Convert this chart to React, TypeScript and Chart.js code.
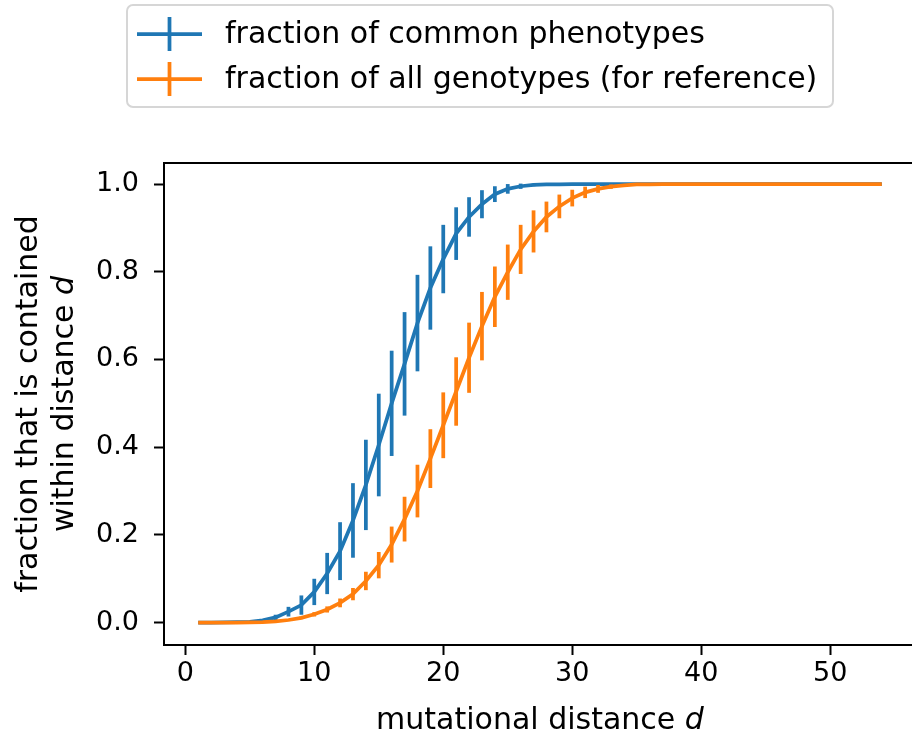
import React, { useEffect, useRef } from "react";
import { Chart, registerables } from "chart.js";

Chart.register(...registerables);

const distances = [
  1, 2, 3, 4, 5, 6, 7, 8, 9, 10, 11, 12, 13, 14, 15, 16, 17, 18, 19, 20, 21, 22, 23, 24, 25, 26, 27,
  28, 29, 30, 31, 32, 33, 34, 35, 36, 37, 38, 39, 40, 41, 42, 43, 44, 45, 46, 47, 48, 49, 50, 51, 52, 53, 54,
];

const commonPhenotypes = [
  0, 0, 0.0005, 0.001, 0.002, 0.005, 0.012, 0.025, 0.04, 0.07, 0.112, 0.163, 0.233, 0.314, 0.405, 0.5, 0.59,
  0.683, 0.763, 0.829, 0.887, 0.925, 0.954, 0.977, 0.989, 0.995, 0.998, 0.999, 0.9995, 1, 1, 1, 1, 1, 1, 1, 1,
  1, 1, 1, 1, 1, 1, 1, 1, 1, 1, 1, 1, 1, 1, 1, 1, 1,
];
const commonPhenotypesErr = [
  0, 0, 0, 0, 0.001, 0.003, 0.006, 0.011, 0.022, 0.03, 0.047, 0.066, 0.085, 0.103, 0.117, 0.12, 0.118, 0.11,
  0.095, 0.078, 0.06, 0.045, 0.032, 0.018, 0.011, 0.006, 0.003, 0.001, 0, 0, 0, 0, 0, 0, 0, 0, 0, 0, 0, 0, 0,
  0, 0, 0, 0, 0, 0, 0, 0, 0, 0, 0, 0, 0,
];

const allGenotypes = [
  0, 0, 0, 0.0002, 0.0005, 0.001, 0.003, 0.006, 0.011, 0.019, 0.03, 0.045, 0.065, 0.095, 0.131, 0.178, 0.236,
  0.3, 0.374, 0.45, 0.527, 0.604, 0.676, 0.743, 0.799, 0.851, 0.892, 0.925, 0.949, 0.968, 0.981, 0.989, 0.994,
  0.997, 0.999, 0.9995, 1, 1, 1, 1, 1, 1, 1, 1, 1, 1, 1, 1, 1, 1, 1, 1, 1, 1,
];
const allGenotypesErr = [
  0, 0, 0, 0, 0, 0.0005, 0.001, 0.002, 0.003, 0.005, 0.007, 0.01, 0.014, 0.021, 0.03, 0.041, 0.051, 0.06,
  0.067, 0.075, 0.078, 0.08, 0.078, 0.069, 0.063, 0.056, 0.048, 0.035, 0.027, 0.019, 0.013, 0.009, 0.005,
  0.003, 0.001, 0, 0, 0, 0, 0, 0, 0, 0, 0, 0, 0, 0, 0, 0, 0, 0, 0, 0, 0,
];

const seriesLabels = ["fraction of common phenotypes", "fraction of all genotypes (for reference)"];
const seriesColors = ["#1f77b4", "#ff7f0e"];
const xTicks = [0, 10, 20, 30, 40, 50];
const yTicks = [0, 0.2, 0.4, 0.6, 0.8, 1.0];
const xTitle = "mutational distance ";
const yTitleLines = ["fraction that is contained", "within distance "];
const italicVar = "d";

const FONT = "'DejaVu Sans', sans-serif";
const LW = 3.75;

const errorBarPlugin = {
  id: "errorBars",
  afterDatasetDraw(chart: any, args: any) {
    const ds = chart.data.datasets[args.index];
    const errs: number[] = ds.errors;
    if (!errs) return;
    const { ctx, chartArea } = chart;
    const xs = chart.scales.x;
    const ys = chart.scales.y;
    ctx.save();
    ctx.beginPath();
    ctx.rect(chartArea.left, chartArea.top, chartArea.right - chartArea.left, chartArea.bottom - chartArea.top);
    ctx.clip();
    ctx.strokeStyle = ds.borderColor;
    ctx.lineWidth = LW;
    ctx.lineCap = "butt";
    ds.data.forEach((p: any, i: number) => {
      const e = errs[i];
      if (!e) return;
      const px = xs.getPixelForValue(p.x);
      ctx.beginPath();
      ctx.moveTo(px, ys.getPixelForValue(p.y - e));
      ctx.lineTo(px, ys.getPixelForValue(p.y + e));
      ctx.stroke();
    });
    ctx.restore();
  },
};

const framePlugin = {
  id: "frame",
  afterDraw(chart: any) {
    const { ctx, chartArea } = chart;
    ctx.save();
    ctx.strokeStyle = "#000";
    ctx.lineWidth = 2;
    ctx.strokeRect(chartArea.left, chartArea.top, chartArea.right - chartArea.left, chartArea.bottom - chartArea.top);
    ctx.restore();
  },
};

function drawMixed(ctx: CanvasRenderingContext2D, normal: string, italic: string, x: number, y: number, size: number, align: "center" | "left") {
  ctx.font = `${size}px ${FONT}`;
  const w1 = ctx.measureText(normal).width;
  ctx.font = `oblique ${size}px ${FONT}`;
  const w2 = ctx.measureText(italic).width;
  const start = align === "center" ? x - (w1 + w2) / 2 : x;
  ctx.textAlign = "left";
  ctx.font = `${size}px ${FONT}`;
  ctx.fillText(normal, start, y);
  ctx.font = `oblique ${size}px ${FONT}`;
  ctx.fillText(italic, start + w1, y);
}

const titlesPlugin = {
  id: "titles",
  afterDraw(chart: any) {
    const { ctx, chartArea } = chart;
    ctx.save();
    ctx.fillStyle = "#000";
    ctx.textBaseline = "alphabetic";
    const cx = (chartArea.left + chartArea.right) / 2;
    drawMixed(ctx, xTitle, italicVar, cx, 729, 30, "center");
    const cy = (chartArea.top + chartArea.bottom) / 2;
    ctx.translate(0, cy);
    ctx.rotate(-Math.PI / 2);
    ctx.font = `30px ${FONT}`;
    ctx.textAlign = "center";
    ctx.fillText(yTitleLines[0], 0, 37);
    drawMixed(ctx, yTitleLines[1], italicVar, 0, 73, 30, "center");
    ctx.restore();
  },
};

const legendPlugin = {
  id: "customLegend",
  afterDraw(chart: any) {
    const { ctx } = chart;
    ctx.save();
    const bx = 127, by = 5, bw = 706, bh = 102, r = 6;
    ctx.beginPath();
    ctx.moveTo(bx + r, by);
    ctx.arcTo(bx + bw, by, bx + bw, by + bh, r);
    ctx.arcTo(bx + bw, by + bh, bx, by + bh, r);
    ctx.arcTo(bx, by + bh, bx, by, r);
    ctx.arcTo(bx, by, bx + bw, by, r);
    ctx.closePath();
    ctx.fillStyle = "rgba(255,255,255,0.8)";
    ctx.fill();
    ctx.strokeStyle = "#d6d6d6";
    ctx.lineWidth = 2;
    ctx.stroke();
    const rows = [34, 79];
    chart.data.datasets.forEach((ds: any, i: number) => {
      const y = rows[i];
      ctx.strokeStyle = ds.borderColor;
      ctx.lineWidth = LW;
      ctx.beginPath();
      ctx.moveTo(137, y);
      ctx.lineTo(202, y);
      ctx.moveTo(169.5, y - 17);
      ctx.lineTo(169.5, y + 17);
      ctx.stroke();
      ctx.fillStyle = "#000";
      ctx.font = `30px ${FONT}`;
      ctx.textAlign = "left";
      ctx.textBaseline = "middle";
      ctx.fillText(ds.label, 225, y + 1);
    });
    ctx.restore();
  },
};

export default function App() {
  const ref = useRef<HTMLCanvasElement | null>(null);
  useEffect(() => {
    if (!ref.current) return;
    const mk = (vals: number[]) => distances.map((d, i) => ({ x: d, y: vals[i] }));
    const chart = new Chart(ref.current, {
      type: "line",
      data: {
        datasets: [
          {
            label: seriesLabels[0],
            data: mk(commonPhenotypes),
            errors: commonPhenotypesErr,
            borderColor: seriesColors[0],
            backgroundColor: seriesColors[0],
            borderWidth: LW,
            pointRadius: 0,
            tension: 0,
            order: 1,
          } as any,
          {
            label: seriesLabels[1],
            data: mk(allGenotypes),
            errors: allGenotypesErr,
            borderColor: seriesColors[1],
            backgroundColor: seriesColors[1],
            borderWidth: LW,
            pointRadius: 0,
            tension: 0,
            order: 0,
          } as any,
        ],
      },
      options: {
        animation: false,
        responsive: false,
        devicePixelRatio: 1,
        layout: { padding: { top: 163, left: 0, right: 4, bottom: 0 } },
        plugins: { legend: { display: false }, tooltip: { enabled: false }, title: { display: false } },
        scales: {
          x: {
            type: "linear",
            min: -1.65,
            max: 56.65,
            afterBuildTicks: (s: any) => {
              s.ticks = xTicks.map((v) => ({ value: v }));
            },
            afterFit: (s: any) => {
              s.height = 91;
            },
            ticks: {
              font: { family: FONT, size: 27 },
              color: "#000",
              padding: 3,
              maxRotation: 0,
              autoSkip: false,
              callback: (v: any) => String(v),
            },
            grid: { display: true, drawOnChartArea: false, drawTicks: true, tickLength: 10, tickWidth: 2, tickColor: "#000" },
            border: { display: true, color: "#000", width: 2 },
          },
          y: {
            type: "linear",
            min: -0.051,
            max: 1.048,
            afterBuildTicks: (s: any) => {
              s.ticks = yTicks.map((v) => ({ value: v }));
            },
            afterFit: (s: any) => {
              s.width = 164;
            },
            ticks: {
              font: { family: FONT, size: 27 },
              color: "#000",
              padding: 15,
              autoSkip: false,
              callback: (v: any) => Number(v).toFixed(1),
            },
            grid: { display: true, drawOnChartArea: false, drawTicks: true, tickLength: 10, tickWidth: 2, tickColor: "#000" },
            border: { display: true, color: "#000", width: 2 },
          },
        },
      } as any,
      plugins: [errorBarPlugin, framePlugin, titlesPlugin, legendPlugin],
    });
    return () => chart.destroy();
  }, []);
  return (
    <div style={{ position: "fixed", left: 0, top: 0, width: 912, height: 736, overflow: "hidden", background: "#fff" }}>
      <canvas ref={ref} width={920} height={736} style={{ width: 920, height: 736, display: "block" }} />
    </div>
  );
}
